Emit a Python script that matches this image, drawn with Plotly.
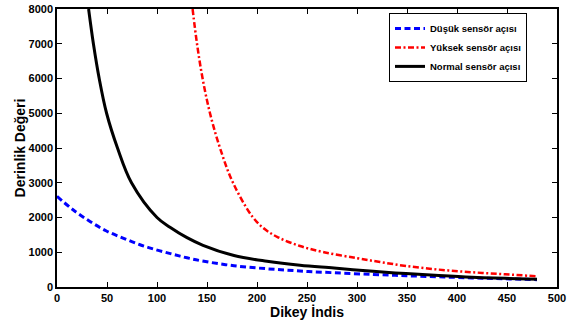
import plotly.graph_objects as go

# --- data ---
low_x = [0, 16, 33, 49, 66, 83, 99, 116, 130, 147, 177, 210, 243, 277, 316, 349, 382, 415, 448, 480]
low_y = [2610, 2222, 1886, 1618, 1408, 1216, 1072, 940, 840, 740, 612, 525, 460, 410, 362, 325, 292, 262, 235, 210]

high_x = [135.6, 140, 145.6, 153, 163, 176, 196, 208, 221, 243, 267, 300, 323, 349, 382, 415, 448, 480]
high_y = [8000, 7000, 6000, 5000, 4000, 3000, 2000, 1660, 1430, 1180, 1000, 830, 720, 605, 500, 425, 365, 310]

norm_x = [31.6, 36.4, 42.2, 49.6, 60.5, 74.5, 100, 113, 130, 146, 177, 210, 243, 277, 316, 349, 382, 415, 448, 480]
norm_y = [8000, 7000, 6000, 5000, 4000, 3000, 2000, 1720, 1420, 1200, 905, 740, 625, 545, 450, 385, 328, 280, 250, 225]

names = ["Düşük sensör açısı", "Yüksek sensör açısı", "Normal sensör açısı"]
x_ticks = list(range(0, 501, 50))
y_ticks = list(range(0, 8001, 1000))

FONT = "Liberation Sans"

fig = go.Figure()
fig.add_trace(go.Scatter(x=low_x, y=low_y, mode="lines", name=names[0],
                         line=dict(color="#0000ff", width=3, dash="6px,3.5px", shape="spline")))
fig.add_trace(go.Scatter(x=high_x, y=high_y, mode="lines", name=names[1],
                         line=dict(color="#ff0000", width=2.5, dash="6px,2.5px,2px,2.5px", shape="spline")))
fig.add_trace(go.Scatter(x=norm_x, y=norm_y, mode="lines", name=names[2],
                         line=dict(color="#000000", width=3, shape="spline")))

axis_common = dict(showline=True, linecolor="black", linewidth=1.5, mirror="ticks",
                   ticks="inside", ticklen=5, tickcolor="black", tickwidth=1,
                   showgrid=False, zeroline=False, automargin=False,
                   tickfont=dict(family=FONT, size=11, color="black", weight="bold"))

fig.update_xaxes(range=[0, 500], tickvals=x_ticks, ticktext=[str(v) for v in x_ticks],
                 title=dict(text="<b>Dikey İndis</b>", font=dict(family=FONT, size=14, color="black"),
                            standoff=1),
                 **axis_common)
fig.update_yaxes(range=[0, 8000], tickvals=y_ticks, ticktext=[str(v) for v in y_ticks],
                 title=dict(text="<b>Derinlik Değeri</b>", font=dict(family=FONT, size=14, color="black"),
                            standoff=0),
                 **axis_common)

fig.update_layout(
    width=576, height=324,
    margin=dict(l=57, r=19, t=9, b=37),
    paper_bgcolor="white", plot_bgcolor="white",
    font=dict(family=FONT, color="black"),
    legend=dict(x=0.94, y=0.986, xanchor="right", yanchor="top",
                bgcolor="white", bordercolor="black", borderwidth=1,
                font=dict(family=FONT, size=9.5, color="black", weight="bold"),
                itemwidth=30, tracegroupgap=0),
)

fig.write_html("out.html",
               config={"displayModeBar": False},
               post_script="document.body.style.margin='0';document.body.style.overflow='hidden';")
